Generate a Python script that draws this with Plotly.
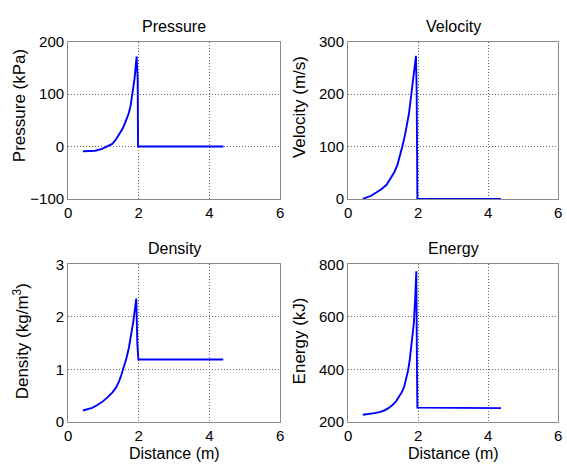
import plotly.graph_objects as go
from plotly.subplots import make_subplots

# ---- data ----
x_pressure = [0.42, 0.6, 0.77, 0.96, 1.15, 1.25, 1.34, 1.48, 1.55, 1.62, 1.72, 1.77, 1.81, 1.85,
              1.88, 1.91, 1.94, 1.97, 1.975, 1.98, 4.4]
pressure = [-9, -8.8, -8, -4.5, 1, 5, 12, 26, 35, 46, 64, 78, 95, 112,
            129, 150, 172, 130, 45, 0, 0]

x_velocity = [0.42, 0.66, 0.94, 1.1, 1.22, 1.32, 1.41, 1.48, 1.55, 1.62, 1.69, 1.74, 1.78, 1.82,
              1.86, 1.9, 1.94, 1.96, 1.97, 1.98, 4.37]
velocity = [0, 6, 18, 27, 40, 51, 65, 81, 100, 120, 142, 163, 185, 206,
            228, 250, 273, 205, 68, 0, 0]

x_density = [0.42, 0.55, 0.68, 0.82, 0.96, 1.1, 1.25, 1.35, 1.44, 1.51, 1.58, 1.65, 1.72, 1.77,
             1.81, 1.85, 1.88, 1.93, 1.96, 1.99, 4.39]
density = [0.22, 0.24, 0.27, 0.32, 0.38, 0.46, 0.56, 0.65, 0.77, 0.9, 1.04, 1.21, 1.41, 1.58,
           1.77, 1.93, 2.07, 2.35, 1.5, 1.19, 1.19]

x_energy = [0.42, 0.6, 0.75, 0.9, 1.03, 1.15, 1.27, 1.37, 1.46, 1.53, 1.6, 1.66, 1.71, 1.76,
            1.8, 1.84, 1.88, 1.92, 1.95, 1.97, 1.98, 4.37]
energy = [228, 230, 234, 238, 244, 253, 265, 279, 296, 313, 333, 361, 394, 435,
          480, 527, 578, 680, 774, 382, 255, 253]

titles = ["Pressure", "Velocity", "Density", "Energy"]
ylabels = ["Pressure (kPa)", "Velocity (m/s)", "Density (kg/m<sup>3</sup>)", "Energy (kJ)"]
xlabel = "Distance (m)"
yranges = [[-100, 200], [0, 300], [0, 3], [200, 800]]
ytickvals = [[-100, 0, 100, 200], [0, 100, 200, 300], [0, 1, 2, 3], [200, 400, 600, 800]]
xtickvals = [0, 2, 4, 6]

W, H = 567, 472
FONT = "Liberation Sans, Arial, sans-serif"
BLUE = "#0000ff"

# pixel boxes of the four axes (left, right, top, bottom)
boxes = [(65, 280, 34, 197), (349, 562, 34, 197), (65, 280, 265, 428.5), (349, 562, 265, 428.5)]
ylabel_pos = [(16, 100), (300, 102), (17, 345), (300, 344)]


def px(v):
    return v / W


def py(v):
    return 1 - v / H


fig = make_subplots(rows=2, cols=2)
series = [(x_pressure, pressure), (x_velocity, velocity), (x_density, density), (x_energy, energy)]
for i, (xs, ys) in enumerate(series):
    r, c = i // 2 + 1, i % 2 + 1
    fig.add_trace(go.Scatter(x=xs, y=ys, mode="lines", line=dict(color=BLUE, width=1.9),
                             showlegend=False, hoverinfo="skip"), row=r, col=c)

axis_common = dict(showline=True, mirror=True, linecolor="#8a8a8a", linewidth=1,
                   showgrid=True, gridcolor="#6a6a6a", griddash="1px,2px", gridwidth=1,
                   zeroline=False, ticks="", ticklabeloverflow="allow",
                   tickfont=dict(family=FONT, size=15, color="black"))

annotations = []
for i in range(4):
    l, rr, t, b = boxes[i]
    xa = "xaxis" if i == 0 else f"xaxis{i+1}"
    ya = "yaxis" if i == 0 else f"yaxis{i+1}"
    fig.layout[xa].update(domain=[px(l), px(rr)], range=[0, 6], tickvals=xtickvals, **axis_common)
    fig.layout[ya].update(domain=[py(b), py(t)], range=yranges[i], tickvals=ytickvals[i], **axis_common)
    cx = (l + rr) / 2
    ty = 18 if i < 2 else 248
    annotations.append(dict(text=titles[i], x=px(cx), y=py(ty), xref="paper", yref="paper",
                            xanchor="center", yanchor="middle", showarrow=False,
                            font=dict(family=FONT, size=16, color="black")))
    lx, ly = ylabel_pos[i]
    annotations.append(dict(text=ylabels[i], x=px(lx), y=py(ly), xref="paper", yref="paper",
                            xanchor="center", yanchor="middle", showarrow=False, textangle=-90,
                            font=dict(family=FONT, size=17, color="black")))
    if i >= 2:
        annotations.append(dict(text=xlabel, x=px(cx), y=py(461), xref="paper", yref="paper",
                                xanchor="center", yanchor="middle", showarrow=False,
                                font=dict(family=FONT, size=16, color="black")))

fig.update_layout(width=W, height=H, margin=dict(l=0, r=0, t=0, b=0),
                  paper_bgcolor="white", plot_bgcolor="white", annotations=annotations,
                  font=dict(family=FONT, size=15, color="black"))

fig.write_html("out.html", config={"displayModeBar": False},
               post_script="document.body.style.margin='0';document.body.style.overflow='hidden';")
